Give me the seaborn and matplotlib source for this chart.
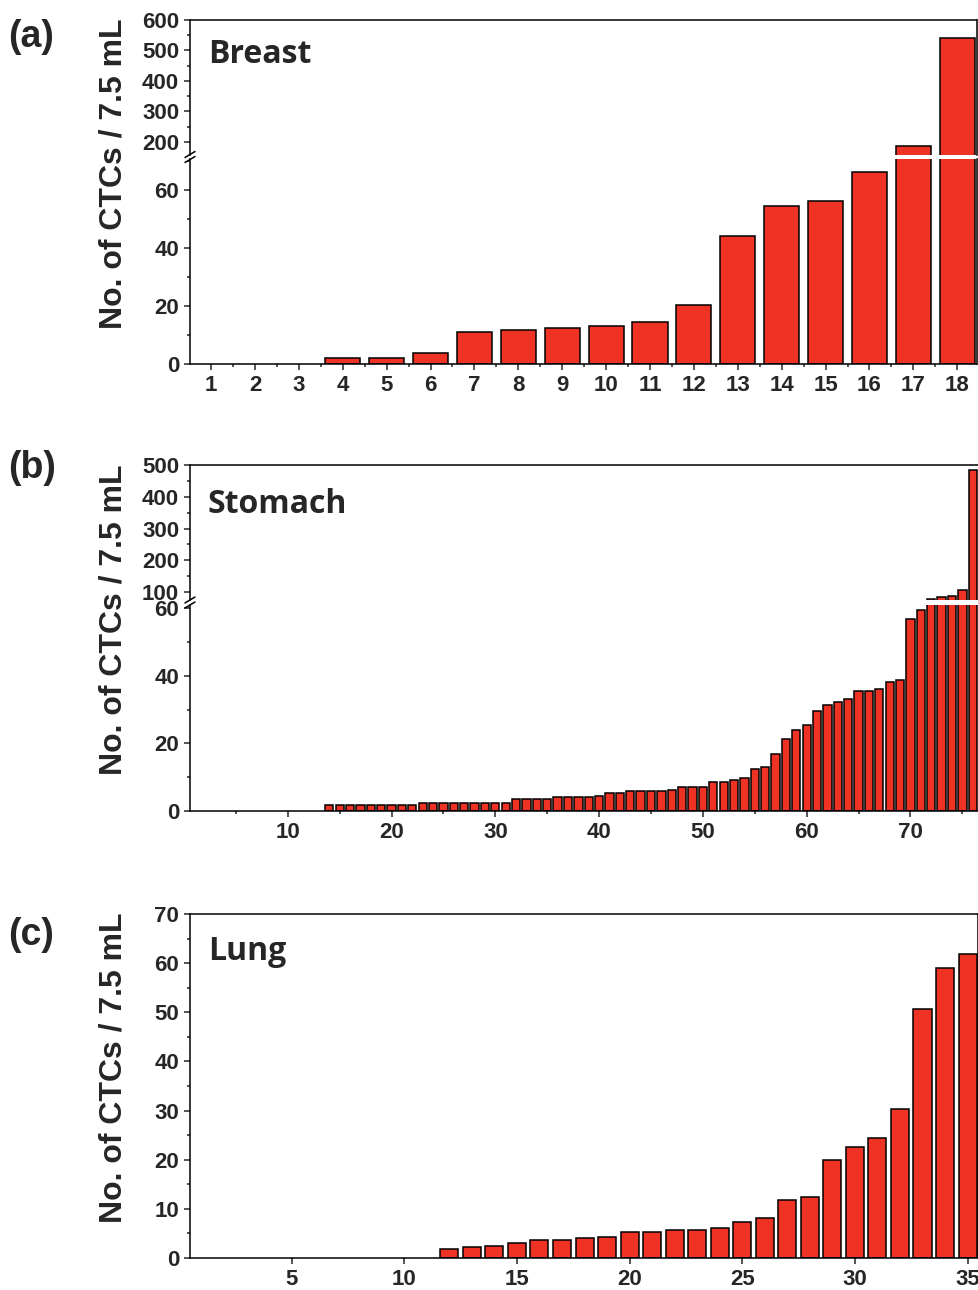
import numpy as np
import matplotlib
matplotlib.use("Agg")
import matplotlib.pyplot as plt
from matplotlib.lines import Line2D
from matplotlib.ticker import MultipleLocator, FixedLocator
import seaborn as sns

# ---------------- data ----------------
breast_ids = list(range(1, 19))
breast_vals = [0, 0, 0, 2, 2, 3.8, 11, 11.7, 12.4, 13.1, 14.4, 20.3,
               44, 54.6, 56.2, 66.2, 187, 541]

stomach_ids = list(range(1, 77))
stomach_vals = ([0] * 13 + [1.7] * 9 + [2.4] * 9 + [3.6, 3.6, 3.5, 3.5] +
                [4.0] * 4 + [4.4, 5.4, 5.4] + [5.9] * 4 + [6.3] +
                [7.2] * 3 + [8.5, 8.5, 9.1, 9.9, 12.5, 13.0, 16.8, 21.2,
                             23.9, 25.4, 29.5, 31.3, 32.2, 33.2, 35.5, 35.5,
                             36.0, 38.1, 38.7, 56.8, 59.5, 78, 84, 88, 106, 485])

lung_ids = list(range(1, 36))
lung_vals = [0] * 11 + [1.8, 2.2, 2.4, 3.1, 3.7, 3.7, 4.1, 4.3, 5.3, 5.3,
                        5.6, 5.6, 6.2, 7.4, 8.1, 11.8, 12.5, 19.9, 22.5,
                        24.4, 30.3, 50.6, 59.0, 61.9]

panel_letters = ["(a)", "(b)", "(c)"]
panel_titles = ["Breast", "Stomach", "Lung"]
ylabel_text = "No. of CTCs / 7.5 mL"

# ---------------- style ----------------
sns.set_style("ticks")
plt.rcParams["font.family"] = ["Liberation Sans", "DejaVu Sans"]
plt.rcParams["font.weight"] = "bold"
plt.rcParams["axes.linewidth"] = 1.1

RED = "#EE3325"
W, H = 979, 1290
fig = plt.figure(figsize=(W / 100, H / 100), dpi=100)


def add_ax(left, right, top, bottom):
    return fig.add_axes([left / W, 1 - bottom / H, (right - left) / W, (bottom - top) / H])


def style_ax(ax):
    ax.tick_params(axis="both", which="major", direction="out", length=4.3,
                   width=1.1, labelsize=16, pad=3.5)
    ax.tick_params(axis="both", which="minor", direction="out", length=2.5, width=1.1)
    for lab in ax.get_xticklabels() + ax.get_yticklabels():
        lab.set_fontweight("bold")
    ax.set_xlabel("")
    ax.set_ylabel("")
    for s in ax.spines.values():
        s.set_linewidth(1.1)
        s.set_color("black")


def bars(ax, ids, vals):
    sns.barplot(x=ids, y=vals, native_scale=True, color=RED, saturation=1,
                edgecolor="black", linewidth=1.1, width=0.8, errorbar=None, ax=ax)
    for p in ax.patches:
        if p.get_height() == 0:
            p.set_visible(False)


def break_mark(xpx, ypx):
    for dy in (-2.5, 2.5):
        fig.add_artist(Line2D([(xpx - 5) / W, (xpx + 5) / W],
                              [1 - (ypx + dy + 3) / H, 1 - (ypx + dy - 3) / H],
                              color="black", lw=1.1))


def broken_panel(ids, vals, left, right, top, gap_top, gap_bot, bottom,
                 xlim, up_lim, low_lim, up_major, up_minor, low_major, low_minor,
                 xmajor, xminor, xticklabels=None):
    axu = add_ax(left, right, top, gap_top)
    axl = add_ax(left, right, gap_bot, bottom)
    for ax in (axu, axl):
        bars(ax, ids, vals)
        ax.set_xlim(*xlim)
    axu.set_ylim(*up_lim)
    axl.set_ylim(*low_lim)
    axu.yaxis.set_major_locator(FixedLocator(up_major))
    axu.yaxis.set_minor_locator(FixedLocator(up_minor))
    axl.yaxis.set_major_locator(FixedLocator(low_major))
    axl.yaxis.set_minor_locator(FixedLocator(low_minor))
    axu.spines["bottom"].set_visible(False)
    axl.spines["top"].set_visible(False)
    axl.xaxis.set_major_locator(FixedLocator(xmajor))
    axl.xaxis.set_minor_locator(FixedLocator(xminor))
    if xticklabels is not None:
        axl.set_xticklabels(xticklabels)
    style_ax(axu)
    style_ax(axl)
    axu.tick_params(axis="x", which="both", bottom=False, labelbottom=False)
    break_mark(left, (gap_top + gap_bot) / 2)
    return axu, axl


# ---------------- panel (a) ----------------
broken_panel(breast_ids, breast_vals, 190, 977, 20, 155, 159, 364,
             (0.52, 18.45), (157, 600), (0, 70.7),
             [200, 300, 400, 500, 600], [250, 350, 450, 550],
             [0, 20, 40, 60], [10, 30, 50, 70],
             breast_ids, [i + 0.5 for i in range(0, 19)],
             [str(i) for i in breast_ids])

# ---------------- panel (b) ----------------
broken_panel(stomach_ids, stomach_vals, 190, 980, 465, 600, 605, 811,
             (0.58, 76.7), (75, 500), (0, 61),
             [100, 200, 300, 400, 500], [150, 250, 350, 450],
             [0, 20, 40, 60], [10, 30, 50],
             [10, 20, 30, 40, 50, 60, 70], [5, 15, 25, 35, 45, 55, 65, 75],
             ["10", "20", "30", "40", "50", "60", "70"])

# ---------------- panel (c) ----------------
axc = add_ax(190, 977.7, 914, 1258)
bars(axc, lung_ids, lung_vals)
axc.set_xlim(0.49, 35.45)
axc.set_ylim(0, 70)
axc.yaxis.set_major_locator(MultipleLocator(10))
axc.yaxis.set_minor_locator(MultipleLocator(5))
axc.xaxis.set_major_locator(FixedLocator([5, 10, 15, 20, 25, 30, 35]))
axc.set_xticklabels(["5", "10", "15", "20", "25", "30", "35"])
style_ax(axc)

# ---------------- texts ----------------
letter_y = [37, 468, 935]
title_base = [63, 513, 960]
ylabel_y = [174, 620, 1068]
for i in range(3):
    fig.text(8 / W, 1 - letter_y[i] / H, panel_letters[i], fontsize=27,
             fontweight="bold", ha="left", va="center")
    fig.text(208 / W, 1 - title_base[i] / H, panel_titles[i], fontsize=23,
             fontweight="bold", ha="left", va="baseline",
             family=["Open Sans", "Lato", "Liberation Sans", "DejaVu Sans"])
    fig.text(114 / W, 1 - ylabel_y[i] / H, ylabel_text, fontsize=23,
             fontweight="bold", rotation=90, ha="center", va="center")

fig.savefig("out.png", dpi=100)
